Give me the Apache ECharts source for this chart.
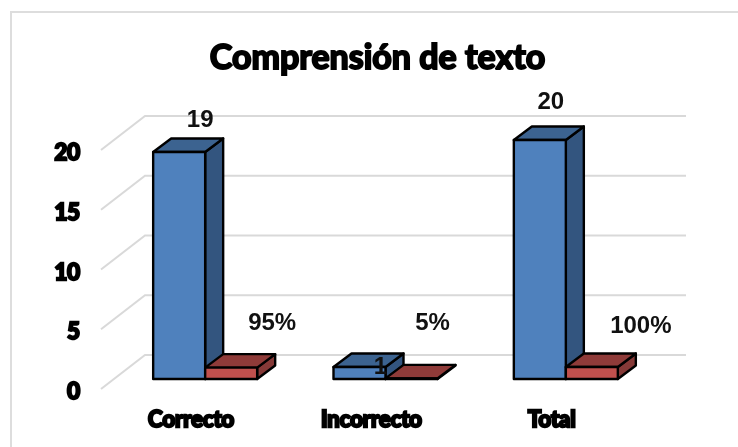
<!DOCTYPE html>
<html>
<head>
<meta charset="utf-8">
<style>html,body{margin:0;padding:0;background:#fff}#c{width:738px;height:447px}</style>
<script src="https://cdn.jsdelivr.net/npm/echarts@6/dist/echarts.min.js"></script>
</head>
<body>
<div id="c"></div>
<script>
const titleText = 'Comprensión de texto';
const categories = ['Correcto', 'Incorrecto', 'Total'];
const counts = [19, 1, 20];
const shares = [0.95, 0.05, 1];
const yTicks = [0, 5, 10, 15, 20];

// Label nudges relative to the top of each bar's front face
const countLabelNudge = [[21, -32], [21, 0], [11, -38]];
const shareLabelNudge = [[41, -44], [21, -55], [49, -41]];

const WALL_DX = 44, WALL_DY = 34;      // floor depth
const BAR_DX = 14, BAR_DY = 10;        // bars stand this far into the floor
const DEPTH_X = 18, DEPTH_Y = 13.5;    // bar depth
const BAR_W = 52;
const LABEL_FONT = '"Liberation Sans", Arial, sans-serif';
const HEAVY_FONT = 'Lato, sans-serif';

function prism(x0, yBase, yTop, c) {
  const w = BAR_W, dx = DEPTH_X, dy = DEPTH_Y;
  const common = { stroke: '#000', lineWidth: 2.4, lineJoin: 'round' };
  return [
    { type: 'polygon', shape: { points: [[x0 + w, yBase], [x0 + w + dx, yBase - dy], [x0 + w + dx, yTop - dy], [x0 + w, yTop]] }, style: Object.assign({ fill: c.side }, common) },
    { type: 'polygon', shape: { points: [[x0, yTop], [x0 + dx, yTop - dy], [x0 + w + dx, yTop - dy], [x0 + w, yTop]] }, style: Object.assign({ fill: c.top }, common) },
    { type: 'rect', shape: { x: x0, y: yTop, width: w, height: yBase - yTop }, style: Object.assign({ fill: c.front }, common) }
  ];
}

function barRenderer(side, colors, nudges, fmt) {
  return function (params, api) {
    const i = api.value(0), v = api.value(1);
    const top = api.coord([i, v]);
    const base = api.coord([i, 0]);
    const x0 = top[0] + BAR_DX + (side === 0 ? -BAR_W : 0);
    const yTop = top[1] - BAR_DY, yBase = base[1] - BAR_DY;
    const kids = prism(x0, yBase, yTop, colors);
    const n = nudges[params.dataIndex];
    kids.push({
      type: 'text',
      z2: 50,
      style: {
        x: x0 + BAR_W / 2 + n[0], y: yTop + n[1],
        text: fmt(v), align: 'center', verticalAlign: 'middle',
        font: 'bold 24px ' + LABEL_FONT, fill: '#111'
      }
    });
    return { type: 'group', children: kids };
  };
}

const option = {
  animation: false,
  backgroundColor: '#fff',
  title: {
    text: titleText, left: 372.5, top: 36, textAlign: 'center',
    textStyle: { fontFamily: HEAVY_FONT, fontWeight: 'bold', fontSize: 34, color: '#000', textBorderColor: '#000', textBorderWidth: 2 }
  },
  grid: { left: 101, right: 96, top: 150, bottom: 58 },
  xAxis: {
    type: 'category', data: categories,
    axisLine: { show: false }, axisTick: { show: false }, splitLine: { show: false },
    axisLabel: { margin: 20, fontFamily: HEAVY_FONT, fontWeight: 'bold', fontSize: 22, color: '#000', textBorderColor: '#000', textBorderWidth: 2.4 }
  },
  yAxis: {
    type: 'value', min: 0, max: 20, interval: 5,
    axisLine: { show: false }, axisTick: { show: false }, splitLine: { show: false },
    axisLabel: { margin: 21, verticalAlign: 'top', lineHeight: 6, fontFamily: HEAVY_FONT, fontWeight: 'bold', fontSize: 22, color: '#000', textBorderColor: '#000', textBorderWidth: 2.4 }
  },
  graphic: [
    { type: 'polyline', silent: true, shape: { points: [[11, 447], [11, 12], [738, 12]] }, style: { fill: 'none', stroke: '#DDDDDD', lineWidth: 2 } }
  ],
  series: [
    {
      name: 'wall', type: 'custom', coordinateSystem: 'cartesian2d', clip: false, silent: true, z: 1,
      data: yTicks.map(t => [0, t]),
      encode: { x: 0, y: 1 },
      renderItem: function (params, api) {
        const y = api.coord([0, api.value(1)])[1];
        const r = params.coordSys;
        return {
          type: 'polyline',
          shape: { points: [[r.x, y], [r.x + WALL_DX, y - WALL_DY], [r.x + r.width + WALL_DX, y - WALL_DY]] },
          style: { fill: 'none', stroke: '#D9D9D9', lineWidth: 2 }
        };
      }
    },
    {
      name: 'Cantidad', type: 'custom', coordinateSystem: 'cartesian2d', clip: false, z: 2,
      data: counts.map((v, i) => [i, v]),
      encode: { x: 0, y: 1 },
      renderItem: barRenderer(0, { front: '#4F81BD', top: '#3C6390', side: '#33557F' }, countLabelNudge, v => String(v))
    },
    {
      name: 'Porcentaje', type: 'custom', coordinateSystem: 'cartesian2d', clip: false, z: 3,
      data: shares.map((v, i) => [i, v]),
      encode: { x: 0, y: 1 },
      renderItem: barRenderer(1, { front: '#C0504D', top: '#8F3B39', side: '#853937' }, shareLabelNudge, v => Math.round(v * 100) + '%')
    }
  ]
};

echarts.init(document.getElementById('c'), null, { renderer: 'canvas' }).setOption(option);
</script>
</body>
</html>
